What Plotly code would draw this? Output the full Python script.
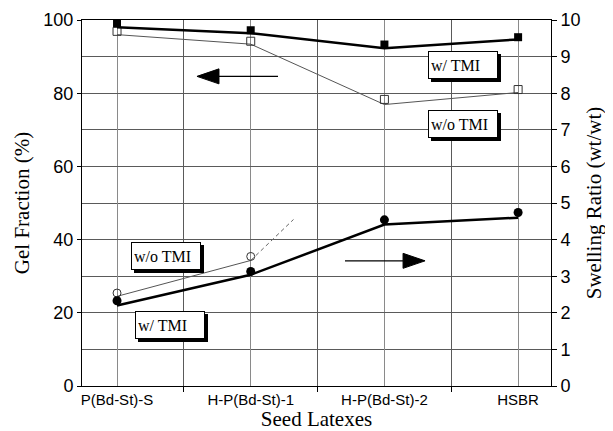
import plotly.graph_objects as go

categories = ["P(Bd-St)-S", "H-P(Bd-St)-1", "H-P(Bd-St)-2", "HSBR"]
cat_pos = [0, 1, 2, 3]

# Gel fraction (%), left axis
gel_w_tmi = [99.1, 97.2, 93.3, 95.3]
gel_w_tmi_line = [98.0, 96.4, 92.3, 94.7]
gel_wo_tmi = [96.9, 94.2, 78.3, 81.0]
gel_wo_tmi_line = [96.0, 93.4, 76.9, 80.2]

# Swelling ratio (wt/wt), right axis
sw_w_tmi = [2.33, 3.13, 4.54, 4.74]
sw_w_tmi_line = [2.2, 3.04, 4.41, 4.6]
sw_wo_tmi = [2.54, 3.54]
sw_wo_tmi_line = [2.45, 3.43]
sw_wo_ext_x = [1, 1.32]
sw_wo_ext_y = [3.43, 4.55]

SERIF = "Liberation Serif, Times New Roman, serif"
SANS = "Liberation Sans, Arial, sans-serif"

# page has an 8px body margin; size the figure so the plot lands where the reference has it
W, H = 605, 423
ML, MR, MT, MB = 74, 62, 12, 45
XR = [-0.262, 3.246]
plot_w = W - ML - MR
plot_h = H - MT - MB
px_x = (XR[1] - XR[0]) / plot_w
px_y = 100.0 / plot_h

fig = go.Figure()

# Gel fraction w/o TMI
fig.add_trace(go.Scatter(x=cat_pos, y=gel_wo_tmi_line, mode="lines",
                         line=dict(color="#555", width=1), yaxis="y", showlegend=False))
fig.add_trace(go.Scatter(x=cat_pos, y=gel_wo_tmi, mode="markers",
                         marker=dict(symbol="square-open", size=8, color="#333", line=dict(width=1)),
                         yaxis="y", showlegend=False))
# Gel fraction w/ TMI
fig.add_trace(go.Scatter(x=cat_pos, y=gel_w_tmi_line, mode="lines",
                         line=dict(color="black", width=2.5), yaxis="y", showlegend=False))
fig.add_trace(go.Scatter(x=cat_pos, y=gel_w_tmi, mode="markers",
                         marker=dict(symbol="square", size=8, color="black"),
                         yaxis="y", showlegend=False))

# Swelling w/o TMI
fig.add_trace(go.Scatter(x=cat_pos[:2], y=sw_wo_tmi_line, mode="lines",
                         line=dict(color="#555", width=1), yaxis="y2", showlegend=False))
fig.add_trace(go.Scatter(x=sw_wo_ext_x, y=sw_wo_ext_y, mode="lines",
                         line=dict(color="#666", width=1, dash="4px,3px"), yaxis="y2", showlegend=False))
fig.add_trace(go.Scatter(x=cat_pos[:2], y=sw_wo_tmi, mode="markers",
                         marker=dict(symbol="circle-open", size=8, color="#333", line=dict(width=1)),
                         yaxis="y2", showlegend=False))
# Swelling w/ TMI
fig.add_trace(go.Scatter(x=cat_pos, y=sw_w_tmi_line, mode="lines",
                         line=dict(color="black", width=2.5), yaxis="y2", showlegend=False))
fig.add_trace(go.Scatter(x=cat_pos, y=sw_w_tmi, mode="markers",
                         marker=dict(symbol="circle", size=9, color="black"),
                         yaxis="y2", showlegend=False))

shapes = []
def arrow(x_tail, x_tip, y, head_len_px=22, head_half_px=7.5):
    d = 1 if x_tip > x_tail else -1
    base = x_tip - d * head_len_px * px_x
    shapes.append(dict(type="line", xref="x", yref="y", x0=x_tail, x1=base, y0=y, y1=y,
                       line=dict(color="black", width=1.2)))
    hh = head_half_px * px_y
    shapes.append(dict(type="path", xref="x", yref="y",
                       path=f"M {x_tip} {y} L {base} {y+hh} L {base} {y-hh} Z",
                       fillcolor="black", line=dict(color="black", width=1)))

arrow(1.204, 0.598, 84.6)
arrow(1.705, 2.304, 34.2)

annotations = []
def label_box(text, x, y):
    common = dict(x=x, y=y, xref="x", yref="y", showarrow=False,
                  width=64, height=22, align="left", borderpad=2, borderwidth=1,
                  font=dict(family=SERIF, size=16, color="black"))
    # drop shadow
    annotations.append(dict(common, text="\u00a0", bgcolor="black", bordercolor="black",
                            xshift=3, yshift=-3))
    annotations.append(dict(common, text=text, bgcolor="white", bordercolor="black"))

label_box("w/ TMI", 2.59, 87.7)
label_box("w/o TMI", 2.59, 71.7)
label_box("w/o TMI", 0.366, 35.6)
label_box("w/ TMI", 0.396, 16.8)

grid_col = "#5a5a5a"
fig.update_layout(
    width=W, height=H,
    margin=dict(l=ML, r=MR, t=MT, b=MB, autoexpand=False),
    paper_bgcolor="white", plot_bgcolor="white",
    showlegend=False,
    shapes=shapes, annotations=annotations,
    xaxis=dict(
        range=XR, tickvals=cat_pos, ticktext=categories, ticks="",
        showgrid=True, gridcolor="#8a8a8a", gridwidth=1,
        minor=dict(tickvals=[0.5, 1.5, 2.5], ticks="outside", ticklen=5,
                   tickcolor="black", showgrid=True, gridcolor=grid_col, gridwidth=1),
        showline=True, linecolor="black", linewidth=1, mirror=True,
        tickfont=dict(family=SANS, size=15, color="black"),
        title=dict(text="Seed Latexes", font=dict(family=SERIF, size=21, color="black"), standoff=0),
        zeroline=False,
    ),
    yaxis=dict(
        range=[0, 100], dtick=20, ticks="outside", ticklen=4, tickcolor="black",
        showgrid=True, gridcolor=grid_col, gridwidth=1,
        minor=dict(dtick=10, showgrid=True, gridcolor=grid_col, gridwidth=1),
        showline=True, linecolor="black", linewidth=1,
        tickfont=dict(family=SANS, size=18, color="black"),
        title=dict(text="Gel Fraction (%)", font=dict(family=SERIF, size=21, color="black"), standoff=8),
        zeroline=False,
    ),
    yaxis2=dict(
        range=[0, 10], dtick=1, overlaying="y", side="right",
        ticks="outside", ticklen=5, tickcolor="black", showgrid=False,
        showline=True, linecolor="black", linewidth=1,
        tickfont=dict(family=SANS, size=18, color="black"),
        title=dict(text="Swelling Ratio (wt/wt)", font=dict(family=SERIF, size=21, color="black"), standoff=6),
        zeroline=False,
    ),
)

fig.write_html("out.html")
